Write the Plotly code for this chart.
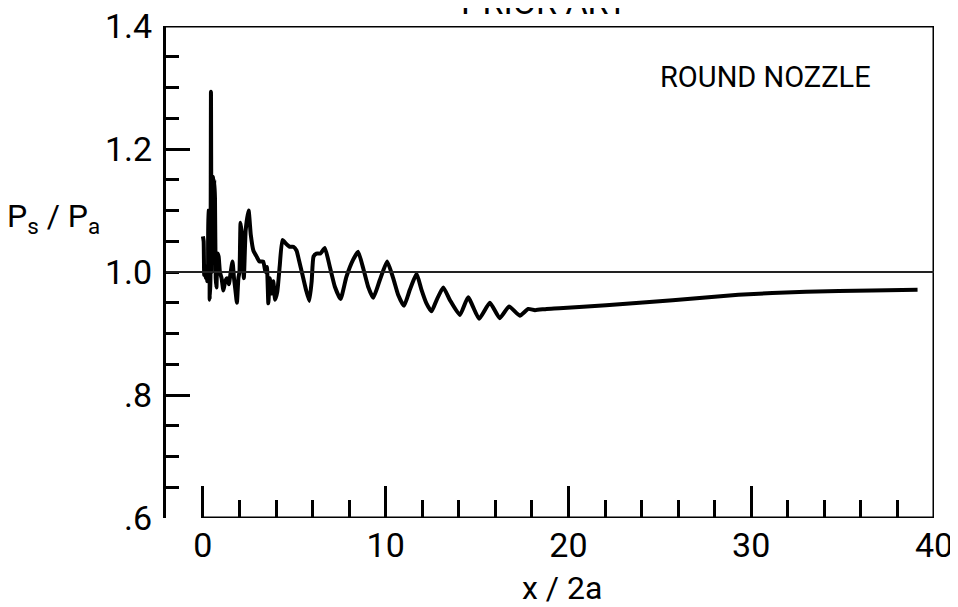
import plotly.graph_objects as go

# ---- data ----
x_ratio = [0.00, 0.04, 0.07, 0.12, 0.16, 0.20, 0.24, 0.28, 0.31, 0.34, 0.37, 0.41, 0.44, 0.47,
           0.51, 0.55, 0.59, 0.62, 0.66, 0.70, 0.74, 0.80, 0.86, 0.93, 1.02, 1.12, 1.22, 1.32,
           1.42, 1.52, 1.62, 1.70, 1.78, 1.86, 1.94, 2.00, 2.06, 2.14, 2.24, 2.34, 2.50, 2.62,
           2.76, 2.94, 3.10, 3.30, 3.42, 3.50, 3.58, 3.66, 3.75, 3.85, 3.95, 4.07, 4.20, 4.35,
           4.55, 4.76, 4.95, 5.12, 5.25, 5.45, 5.65, 5.82, 5.95, 6.05, 6.21, 6.43, 6.67, 6.94,
           7.22, 7.53, 7.85, 8.22, 8.49, 8.77, 9.04, 9.32, 9.68, 10.08, 10.41, 10.68, 11.00,
           11.32, 11.69, 11.96, 12.23, 12.51, 12.78, 13.15, 13.52, 14.06, 14.51, 15.11, 15.70,
           16.24, 16.75, 17.34, 17.80, 18.17, 18.80, 19.50, 22.06, 25.70, 29.30, 33.00, 36.60,
           39.10]
ps_pa = [1.058, 1.050, 0.995, 1.010, 0.990, 1.000, 0.985, 1.000, 1.100, 1.100, 0.955, 0.985,
         1.293, 1.000, 1.150, 1.155, 1.090, 1.150, 1.120, 0.990, 0.975, 1.030, 1.025, 1.000,
         0.990, 0.970, 0.985, 0.990, 0.980, 1.000, 1.017, 0.990, 0.970, 0.950, 0.990, 1.000,
         1.080, 1.058, 0.990, 1.068, 1.100, 1.060, 1.035, 1.025, 1.017, 1.017, 1.000, 1.008,
         0.949, 0.990, 0.965, 0.985, 0.955, 0.968, 1.009, 1.052, 1.046, 1.041, 1.041, 1.035,
         1.020, 0.995, 0.970, 0.953, 0.985, 1.025, 1.030, 1.030, 1.039, 1.009, 0.976, 0.956,
         0.992, 1.020, 1.033, 1.006, 0.976, 0.958, 0.987, 1.017, 0.990, 0.963, 0.945, 0.971,
         0.997, 0.971, 0.949, 0.936, 0.954, 0.975, 0.954, 0.930, 0.959, 0.924, 0.950, 0.925,
         0.944, 0.929, 0.940, 0.938, 0.940, 0.941, 0.946, 0.954, 0.963, 0.968, 0.970, 0.971]

x_ticks = [0, 10, 20, 30, 40]
x_tick_labels = ["0", "10", "20", "30", "40"]
x_minor_ticks = [2, 4, 6, 8, 12, 14, 16, 18, 22, 24, 26, 28, 32, 34, 36, 38]
y_ticks = [0.6, 0.8, 1.0, 1.2, 1.4]
y_tick_labels = [".6", ".8", "1.0", "1.2", "1.4"]
y_long_ticks = [0.8, 1.2]
reference_level = 1.0

FONT = "Roboto, Liberation Sans, sans-serif"
X_RANGE = [-2.02, 40]
Y_RANGE = [0.6, 1.4]

fig = go.Figure()
fig.add_trace(go.Scatter(
    x=x_ratio, y=ps_pa, mode="lines",
    line=dict(color="black", width=4, shape="spline", smoothing=0.45),
    hoverinfo="skip", showlegend=False))
# invisible trace carrying the secondary (long-tick) y axis
fig.add_trace(go.Scatter(x=[x_ratio[0]], y=[ps_pa[0]], yaxis="y2", mode="markers",
                         marker=dict(opacity=0), hoverinfo="skip", showlegend=False))

# the page body adds an 8 px offset, so the figure is sized to fit the window after it
fig.update_layout(
    width=950, height=599,
    margin=dict(l=158, r=24, t=18, b=89),
    paper_bgcolor="white", plot_bgcolor="white",
    font=dict(family=FONT, color="black"),
    xaxis=dict(range=X_RANGE, showgrid=False, zeroline=False, showline=False,
               automargin=False, ticklabeloverflow="allow",
               ticks="inside", tickvals=x_ticks, ticktext=x_tick_labels,
               ticklen=32, tickwidth=3, tickcolor="black",
               tickfont=dict(family=FONT, size=34, color="black"),
               ticklabelstandoff=4,
               minor=dict(tickvals=x_minor_ticks, ticks="inside", ticklen=18,
                          tickwidth=3, tickcolor="black", showgrid=False)),
    yaxis=dict(range=Y_RANGE, showgrid=False, zeroline=False, showline=True,
               automargin=False, ticklabeloverflow="allow",
               linewidth=3, linecolor="black",
               ticks="inside", tickvals=y_ticks, ticktext=y_tick_labels,
               ticklen=13, tickwidth=3, tickcolor="black",
               tickfont=dict(family=FONT, size=34, color="black"),
               ticklabelstandoff=4,
               minor=dict(tick0=0.6, dtick=0.05, ticks="inside", ticklen=13,
                          tickwidth=3, tickcolor="black", showgrid=False)),
    yaxis2=dict(range=Y_RANGE, overlaying="y", side="left", showgrid=False,
                automargin=False,
                zeroline=False, showline=False, ticks="inside",
                tickvals=y_long_ticks, ticklen=24, tickwidth=3, tickcolor="black",
                showticklabels=False),
    shapes=[
        # frame: top, right, bottom (bottom starts at x = 0)
        dict(type="line", xref="paper", yref="y", x0=0, x1=1, y0=Y_RANGE[1], y1=Y_RANGE[1],
             line=dict(color="black", width=3)),
        dict(type="line", xref="x", yref="y", x0=X_RANGE[1], x1=X_RANGE[1],
             y0=Y_RANGE[0], y1=Y_RANGE[1], line=dict(color="black", width=3)),
        dict(type="line", xref="x", yref="y", x0=0, x1=X_RANGE[1],
             y0=Y_RANGE[0], y1=Y_RANGE[0], line=dict(color="black", width=3)),
        # reference line at Ps/Pa = 1
        dict(type="line", xref="paper", yref="y", x0=0, x1=1,
             y0=reference_level, y1=reference_level,
             line=dict(color="#222222", width=2)),
    ],
    annotations=[
        dict(text="PRIOR ART", xref="paper", yref="paper", x=0.493, y=1.004,
             xanchor="center", yanchor="bottom", showarrow=False,
             font=dict(family=FONT, size=34, color="black")),
        dict(text="ROUND NOZZLE", xref="paper", yref="paper", x=0.781, y=0.896,
             xanchor="center", yanchor="middle", showarrow=False,
             font=dict(family=FONT, size=29, color="black")),
        dict(text="P<sub>s</sub> / P<sub>a</sub>", xref="paper", yref="paper",
             x=-0.146, y=0.61, xanchor="center", yanchor="middle", showarrow=False,
             font=dict(family=FONT, size=32, color="black")),
        dict(text="x / 2a", xref="paper", yref="paper", x=0.516, y=-0.142,
             xanchor="center", yanchor="middle", showarrow=False,
             font=dict(family=FONT, size=32, color="black")),
    ],
)

fig.write_html("out.html")
